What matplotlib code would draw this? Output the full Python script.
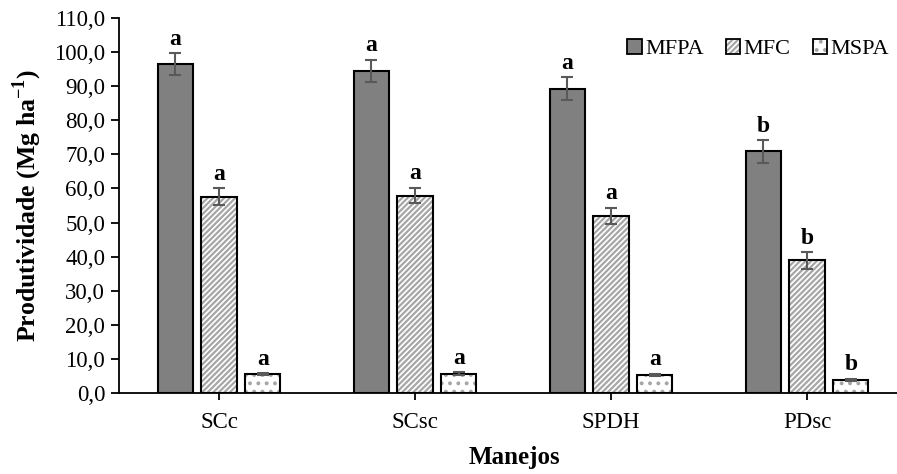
import matplotlib
matplotlib.use("Agg")
import matplotlib.pyplot as plt
import numpy as np
from matplotlib.patches import Patch
from matplotlib.legend_handler import HandlerTuple

plt.rcParams['font.family'] = ['Liberation Serif', 'DejaVu Serif']
plt.rcParams['mathtext.fontset'] = 'custom'
plt.rcParams['mathtext.rm'] = 'Liberation Serif'
plt.rcParams['mathtext.bf'] = 'Liberation Serif:bold'
plt.rcParams['hatch.linewidth'] = 1.6

categories = ["SCc", "SCsc", "SPDH", "PDsc"]
series_names = ["MFPA", "MFC", "MSPA"]
mfpa = [96.4, 94.5, 89.2, 70.9]
mfc = [57.6, 57.9, 52.0, 38.9]
mspa = [5.5, 5.7, 5.3, 3.9]
mfpa_err = [3.2, 3.3, 3.4, 3.3]
mfc_err = [2.4, 2.3, 2.3, 2.4]
mspa_err = [0.3, 0.3, 0.3, 0.3]
mfpa_letters = ["a", "a", "a", "b"]
mfc_letters = ["a", "a", "a", "b"]
mspa_letters = ["a", "a", "a", "b"]
yticks = np.arange(0, 111, 10)

fig = plt.figure(figsize=(8.97, 4.74), dpi=100)
ax = fig.add_axes([0.1327, 0.171, 0.8673, 0.791])

x = np.arange(len(categories))
w = 0.179
off = 0.224
styles = [
    dict(face="#808080", hatch=None, hcol="#808080"),
    dict(face="white", hatch="//////", hcol="#a6a6a6"),
    dict(face="white", hatch="..", hcol="#a6a6a6"),
]
vals = [mfpa, mfc, mspa]
errs = [mfpa_err, mfc_err, mspa_err]
letters = [mfpa_letters, mfc_letters, mspa_letters]
handles = []
for i, (v, e, lt, st) in enumerate(zip(vals, errs, letters, styles)):
    xs = x + (i - 1) * off
    ax.bar(xs, v, width=w, color=st["face"], edgecolor=st["hcol"],
           hatch=st["hatch"], linewidth=0, zorder=2)
    ax.bar(xs, v, width=w, fill=False, edgecolor="black", linewidth=1.5, zorder=3)
    ax.errorbar(xs, v, yerr=e, fmt="none", ecolor="#595959", elinewidth=1.5,
                capsize=4.5, capthick=1.5, zorder=4)
    for xi, vi, ei, li in zip(xs, v, e, lt):
        ax.text(xi, vi + ei + 1.0, li, ha="center", va="bottom",
                fontsize=17, fontweight="bold")
    h1 = Patch(facecolor=st["face"], edgecolor=st["hcol"], hatch=st["hatch"], linewidth=0)
    h2 = Patch(fill=False, edgecolor="black", linewidth=1.3)
    handles.append((h1, h2))

ax.set_xlim(-0.51, 3.459)
ax.set_ylim(0, 110)
ax.set_yticks(yticks)
ax.set_yticklabels([f"{t:.1f}".replace(".", ",") for t in yticks], fontsize=16.5)
ax.set_xticks(x)
ax.set_xticklabels(categories, fontsize=16.5)
ax.spines['top'].set_visible(False)
ax.spines['right'].set_visible(False)
ax.spines['left'].set_linewidth(1.3)
ax.spines['bottom'].set_linewidth(1.3)
ax.tick_params(axis='y', direction='out', length=6, width=1.3, pad=4)
ax.tick_params(axis='x', direction='out', length=5, width=1.3, pad=9)

ax.set_ylabel(r"Produtividade (Mg ha$^{\mathbf{-1}}$)", fontsize=18.5, fontweight="bold")
ax.yaxis.set_label_coords(-0.097, 0.5)
ax.set_xlabel("Manejos", fontsize=18, fontweight="bold")
ax.xaxis.set_label_coords(0.508, -0.142)

leg = ax.legend(handles, series_names, handler_map={tuple: HandlerTuple(ndivide=1)},
                loc="upper right", bbox_to_anchor=(1.01, 0.985), ncol=3, frameon=False,
                fontsize=16, handlelength=0.65, handleheight=0.65, handletextpad=0.15,
                columnspacing=1.0, borderaxespad=0.3)

fig.savefig("out.png", dpi=100)
